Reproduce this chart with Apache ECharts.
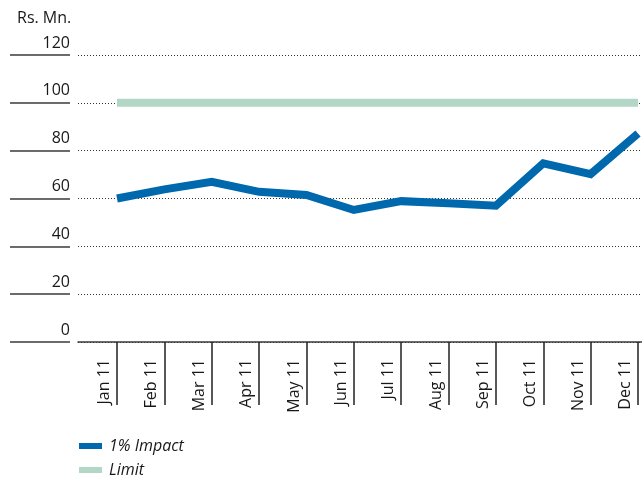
<!DOCTYPE html>
<html>
<head>
<meta charset="utf-8">
<script src="https://cdn.jsdelivr.net/npm/echarts@6/dist/echarts.min.js"></script>
<style>
  html, body { margin: 0; padding: 0; background: #fff; }
  #chart { width: 642px; height: 481px; }
</style>
</head>
<body>
<div id="chart"></div>
<script>
// Monthly sensitivity (Rs. Mn.) for a 1% move, against the fixed limit
const months = ['Jan 11', 'Feb 11', 'Mar 11', 'Apr 11', 'May 11', 'Jun 11',
                'Jul 11', 'Aug 11', 'Sep 11', 'Oct 11', 'Nov 11', 'Dec 11'];
const impact = [60, 63.8, 67, 62.8, 61.5, 55.2, 58.9, 58, 57, 74.7, 70.2, 87.2];
const limit = [100, 100, 100, 100, 100, 100, 100, 100, 100, 100, 100, 100];
const yTicks = { min: 0, max: 120, step: 20 };

const FONT = '"Open Sans", "Noto Sans", sans-serif';
const INK = '#1a1718';
const BLUE = '#0068ad';
const MINT = '#b3d7c6';

const chart = echarts.init(document.getElementById('chart'), null, { renderer: 'canvas' });

const plotTop = 55;
const plotHeight = 287;

chart.setOption({
  animation: false,
  title: {
    text: 'Rs. Mn.',
    left: 17,
    top: 10,
    padding: 0,
    textStyle: { fontFamily: FONT, fontSize: 16, fontWeight: 'normal', color: INK }
  },
  legend: {
    orient: 'vertical',
    left: 79,
    top: 437,
    padding: 0,
    itemWidth: 23,
    itemHeight: 6,
    itemGap: 6,
    icon: 'rect',
    textStyle: { fontFamily: FONT, fontSize: 16, fontStyle: 'italic', color: INK, lineHeight: 18, padding: [0, 0, 0, 2] },
    data: ['1% Impact', 'Limit']
  },
  grid: [
    // dotted guides and baseline
    { left: 78, right: 0, top: plotTop, height: plotHeight },
    // short solid rules carrying the value labels
    { left: 10, width: 60, top: plotTop, height: plotHeight },
    // data area, Jan to Dec
    { left: 117, right: 4, top: plotTop, height: plotHeight }
  ],
  xAxis: [
    {
      gridIndex: 0, type: 'value', min: 0, max: 1,
      axisLine: { show: true, lineStyle: { color: '#3a3a3a', width: 1.5 } },
      axisTick: { show: false }, axisLabel: { show: false }, splitLine: { show: false }
    },
    {
      gridIndex: 1, type: 'value', min: 0, max: 1, show: false
    },
    {
      gridIndex: 2, type: 'category', data: months, boundaryGap: false,
      axisLine: { show: false },
      axisTick: { show: true, length: 63, lineStyle: { color: '#222', width: 1.5 } },
      axisLabel: {
        rotate: 90, margin: 17, interval: 0,
        fontFamily: FONT, fontSize: 16, color: INK,
        verticalAlign: 'bottom', lineHeight: 25
      },
      splitLine: { show: false }
    }
  ],
  yAxis: [
    {
      gridIndex: 0, type: 'value', min: yTicks.min, max: yTicks.max, interval: yTicks.step,
      axisLine: { show: false }, axisTick: { show: false }, axisLabel: { show: false },
      splitLine: { show: true, lineStyle: { color: '#333', type: [1, 2], width: 1 } }
    },
    {
      gridIndex: 1, type: 'value', min: yTicks.min, max: yTicks.max, interval: yTicks.step,
      position: 'right',
      axisLine: { show: false }, axisTick: { show: false },
      axisLabel: {
        inside: true, margin: 0, fontFamily: FONT, fontSize: 16, color: INK,
        verticalAlign: 'bottom', lineHeight: 24
      },
      splitLine: { show: true, lineStyle: { color: '#3a3a3a', width: 1.5 } }
    },
    {
      gridIndex: 2, type: 'value', min: yTicks.min, max: yTicks.max, interval: yTicks.step,
      show: false, splitLine: { show: false }
    }
  ],
  series: [
    {
      name: 'Limit', type: 'line', xAxisIndex: 2, yAxisIndex: 2,
      data: limit, showSymbol: false, clip: false, z: 3,
      color: MINT,
      lineStyle: { color: MINT, width: 8 }
    },
    {
      name: '1% Impact', type: 'line', xAxisIndex: 2, yAxisIndex: 2,
      data: impact, showSymbol: false, clip: false, z: 4,
      color: BLUE,
      lineStyle: { color: BLUE, width: 8, join: 'miter' }
    }
  ]
});
</script>
</body>
</html>
